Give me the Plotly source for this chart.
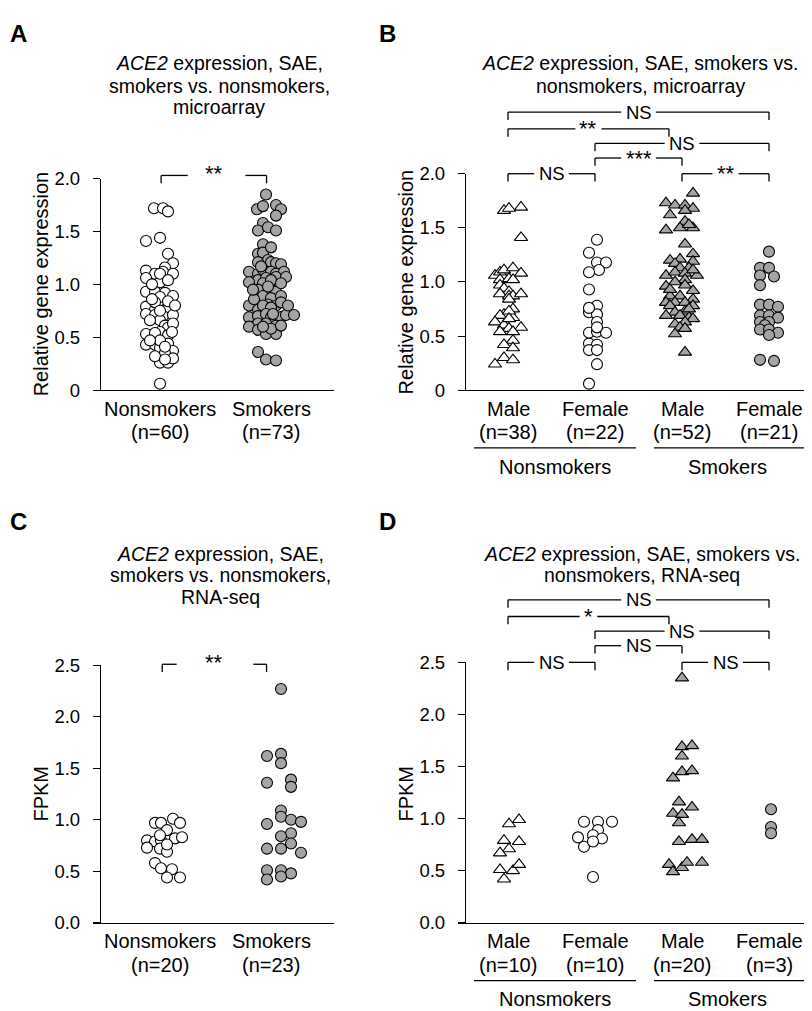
import plotly.graph_objects as go

W, H = 812, 1011
FONT = "Liberation Sans, Arial, Helvetica, sans-serif"
GRAY = "#a4a4a4"

# ---------------- DATA ----------------
# Panel A: microarray, nonsmokers vs smokers
a_labels = ["Nonsmokers", "Smokers"]
a_counts = ["(n=60)", "(n=73)"]
a_nonsmokers = [1.72, 1.72, 1.69, 1.41, 1.44, 1.29, 1.20, 1.16, 1.13, 1.10, 1.12, 1.10, 1.06, 1.02,
                0.93, 0.93, 0.92, 0.89, 0.88, 0.79, 0.76, 0.76, 0.78, 0.72, 0.71, 0.70, 0.71, 0.66,
                0.61, 0.59, 0.55, 0.53, 0.54, 0.52, 0.43, 0.43, 0.44, 0.40, 0.37, 0.35, 0.26, 0.26,
                0.30, 0.06, 1.10, 1.04, 1.00, 0.84, 0.83, 0.75, 0.66, 0.63, 0.47, 0.47, 0.41, 0.32,
                0.29, 0.86, 0.55, 0.80]
a_nonsmokers_dx = [-6, 3, 8, -14, 0, 8, 13, 5, -14, -5, 3, 13, -14, 0,
                   -14, -5, 5, 13, 0, -14, -5, 5, 8, -14, -5, 3, 13, 0,
                   5, 8, 0, -14, -5, 8, -14, -5, 8, 0, 13, 5, 0, 8,
                   13, 0, 0, 8, -8, 8, -5, 0, -10, 13, 0, -10, 5, -5,
                   5, -8, 12, 15]
a_smokers = [1.85, 1.71, 1.74, 1.75, 1.71, 1.65, 1.58, 1.51, 1.54, 1.51, 1.38, 1.29, 1.30, 1.23,
             1.21, 1.21, 1.20, 1.19, 1.12, 1.10, 1.14, 1.12, 1.10, 1.12, 1.04, 1.06, 1.07, 1.07,
             1.02, 1.01, 0.95, 0.95, 0.93, 0.89, 0.87, 0.89, 0.81, 0.80, 0.83, 0.80, 0.76, 0.80,
             0.78, 0.69, 0.70, 0.72, 0.69, 0.66, 0.69, 0.71, 0.71, 0.63, 0.63, 0.61, 0.60, 0.57,
             0.53, 0.53, 0.58, 0.36, 0.29, 0.28, 1.04, 1.01, 0.86, 0.72, 0.60, 0.61, 0.95, 0.98,
             0.80, 1.17, 1.35]
a_smokers_dx = [-5, -14, -8, 5, 10, 5, -8, -13, -3, 5, -8, -13, -8, -3,
                -13, 0, 5, 10, -22, -13, -8, 0, 5, 13, -13, -5, 5, 15,
                -22, -8, -13, 0, 5, -8, 0, 10, -3, 5, 10, -22, -13, -8,
                0, -22, -13, -5, 0, 5, 10, 15, 23, -13, -5, 5, -22, -13,
                -5, 5, 0, -13, -5, 5, 0, 10, -17, 2, -8, 10, -18, -3,
                17, -10, 0]

# Panel B: microarray by sex
b_labels = ["Male", "Female", "Male", "Female"]
b_counts = ["(n=38)", "(n=22)", "(n=52)", "(n=21)"]
b_ns_male = [1.66, 1.68, 1.69, 1.41, 1.06, 1.09, 1.11, 1.13, 1.08, 1.02, 1.03, 1.02, 0.97, 0.94,
             0.91, 0.89, 0.87, 0.87, 0.89, 0.84, 0.75, 0.70, 0.69, 0.67, 0.73, 0.63, 0.60, 0.57,
             0.58, 0.54, 0.54, 0.46, 0.42, 0.39, 0.30, 0.28, 0.24, 0.66]
b_ns_male_dx = [-4, 1, 13, 13, -13, -8, -4, 5, 13, -8, 1, 5, -8, -4,
                1, -8, 1, 5, 13, 1, 5, -4, -8, 5, 1, -13, -4, 1,
                13, -8, 5, 5, -4, 5, -4, 5, -13, 1]
b_ns_female = [1.39, 1.27, 1.18, 1.18, 1.11, 1.09, 0.93, 0.78, 0.72, 0.70, 0.63, 0.53, 0.54, 0.53,
               0.43, 0.42, 0.37, 0.37, 0.24, 0.06, 0.76, 0.58]
b_ns_female_dx = [2, -6, 2, 11, 4, -6, -6, 2, -6, 2, 2, -6, 2, 11,
                  -6, 2, -6, 2, 2, -6, -6, 2]
b_sm_male = [1.82, 1.73, 1.71, 1.71, 1.68, 1.66, 1.62, 1.56, 1.50, 1.50, 1.48, 1.35, 1.26, 1.20,
             1.21, 1.19, 1.17, 1.13, 1.13, 1.06, 1.09, 1.08, 1.06, 1.11, 1.02, 1.00, 0.96, 0.97,
             0.92, 0.87, 0.87, 0.84, 0.81, 0.81, 0.78, 0.81, 0.78, 0.73, 0.72, 0.69, 0.69, 0.67,
             0.66, 0.63, 0.61, 0.58, 0.57, 0.52, 0.35, 1.53, 0.93, 0.75]
b_sm_male_dx = [11, -16, -7, 3, 11, 3, -12, 3, -2, 11, -16, 3, 11, -12,
                -2, 11, -7, -2, 7, -16, -7, 3, 15, 11, 3, -7, -16, 3,
                11, -12, -2, 11, -16, -7, -12, 3, 11, 3, -7, -16, -2, 7,
                11, 3, -7, -2, 3, -7, 3, 7, -12, 7]
b_sm_female = [1.28, 1.13, 1.13, 1.06, 1.05, 0.97, 0.79, 0.79, 0.77, 0.69, 0.69, 0.67, 0.63, 0.63,
               0.60, 0.56, 0.56, 0.53, 0.51, 0.28, 0.27]
b_sm_female_dx = [0, -9, 0, -9, 5, -9, -9, 0, 9, -9, 0, 9, -9, 0,
                  -4, -9, 0, 9, 0, -9, 5]

# Panel C: RNA-seq, nonsmokers vs smokers
c_labels = ["Nonsmokers", "Smokers"]
c_counts = ["(n=20)", "(n=23)"]
c_nonsmokers = [0.97, 0.97, 1.01, 0.97, 0.90, 0.80, 0.79, 0.80, 0.82, 0.83, 0.73, 0.72, 0.69, 0.58,
                0.53, 0.52, 0.44, 0.44, 0.76, 0.85]
c_nonsmokers_dx = [-5, 1, 13, 20, 7, -13, -5, 1, 15, 22, -13, 0, 7, -5,
                   1, 12, 7, 20, 7, 0]
c_smokers = [2.27, 1.62, 1.64, 1.55, 1.36, 1.39, 1.32, 1.09, 1.03, 1.00, 0.98, 0.96, 0.87, 0.84,
             0.77, 0.72, 0.72, 0.68, 0.51, 0.51, 0.48, 0.42, 0.45]
c_smokers_dx = [10, -4, 10, 10, -4, 20, 20, 10, 10, 20, 30, -4, 20, 10,
                20, -4, 10, 30, -4, 10, 20, -4, 10]

# Panel D: RNA-seq by sex
d_labels = ["Male", "Female", "Male", "Female"]
d_counts = ["(n=10)", "(n=10)", "(n=20)", "(n=3)"]
d_ns_male = [0.99, 0.95, 0.79, 0.78, 0.71, 0.67, 0.51, 0.50, 0.56, 0.42]
d_ns_male_dx = [11, 1, -4, 11, 1, -8, -8, 5, 11, -4]
d_ns_female = [0.97, 0.97, 0.97, 0.89, 0.82, 0.84, 0.81, 0.73, 0.78, 0.44]
d_ns_female_dx = [-11, 3, 17, 3, -17, -2, 7, -11, -2, -2]
d_sm_male = [2.35, 1.69, 1.70, 1.60, 1.39, 1.45, 1.46, 1.16, 1.11, 1.05, 1.04, 0.96, 0.78, 0.80,
             0.80, 0.56, 0.49, 0.53, 0.58, 0.58]
d_sm_male_dx = [0, 0, 10, 0, -9, 0, 10, -3, 10, -9, 0, -3, -3, 10,
                20, -13, -9, 0, 5, 20]
d_sm_female = [1.09, 0.92, 0.86]
d_sm_female_dx = [2, 2, 2]

group_names = ["Nonsmokers", "Smokers"]

# significance brackets: (from, to, level, label)
b_brackets = [(0, 3, 2.57, "NS"), (0, 1.85, 2.415, "**"), (1, 3, 2.28, "NS"),
              (1, 2, 2.145, "***"), (0, 1, 2.0, "NS"), (2, 3, 2.0, "**")]
d_brackets = [(0, 3, 3.10, "NS"), (0, 1.85, 2.94, "*"), (1, 3, 2.80, "NS"),
              (1, 2, 2.66, "NS"), (0, 1, 2.50, "NS"), (2, 3, 2.50, "NS")]

# ---------------- GEOMETRY (pixels) ----------------
GEOM = {
    "A": dict(n=1, yax=92, xs=85, xe=326, y0=379, ytop=163, ymax=2.0, c0=152, ppu=111),
    "B": dict(n=2, yax=457, xs=450, xe=807, y0=379, ytop=158, ymax=2.0, c0=500, ppu=87),
    "C": dict(n=3, yax=92, xs=85, xe=326, y0=923, ytop=660, ymax=2.5, c0=152, ppu=111),
    "D": dict(n=4, yax=457, xs=450, xe=807, y0=923, ytop=657, ymax=2.5, c0=500, ppu=87),
}


def suf(g):
    return "" if g["n"] == 1 else str(g["n"])


def paper_x(g, xv):
    return (g["c0"] + xv * g["ppu"]) / W


def paper_y(g, yv):
    return 1 - (g["y0"] - yv * (g["y0"] - g["ytop"]) / g["ymax"]) / H


def py(pix):
    return 1 - pix / H


fig = go.Figure()
shapes = []
annotations = []


def ann(text, x, y, size=20, xref="paper", yref="paper", **kw):
    d = dict(text=text, x=x, y=y, xref=xref, yref=yref, showarrow=False,
             font=dict(family=FONT, size=size, color="black"), xanchor="center", yanchor="middle")
    d.update(kw)
    annotations.append(d)


def line(x0, y0, x1, y1, w=1.3):
    shapes.append(dict(type="line", xref="paper", yref="paper", x0=x0, y0=y0, x1=x1, y1=y1,
                       line=dict(color="black", width=w)))


def add_group(g, pos, vals, dx, symbol, fill, size):
    xs = [pos + d / g["ppu"] for d in dx]
    s = suf(g)
    fig.add_trace(go.Scatter(
        x=xs, y=vals, mode="markers", xaxis="x" + s, yaxis="y" + s,
        marker=dict(symbol=symbol, size=size, color=fill, line=dict(color="black", width=1.1)),
        cliponaxis=False, showlegend=False, hoverinfo="skip"))


CIRC, TRI = 11, 11.5
gA, gB, gC, gD = GEOM["A"], GEOM["B"], GEOM["C"], GEOM["D"]
add_group(gA, 0, a_nonsmokers, a_nonsmokers_dx, "circle", "white", CIRC)
add_group(gA, 1, a_smokers, a_smokers_dx, "circle", GRAY, CIRC)
add_group(gB, 0, b_ns_male, b_ns_male_dx, "triangle-up", "white", TRI)
add_group(gB, 1, b_ns_female, b_ns_female_dx, "circle", "white", CIRC)
add_group(gB, 2, b_sm_male, b_sm_male_dx, "triangle-up", GRAY, TRI)
add_group(gB, 3, b_sm_female, b_sm_female_dx, "circle", GRAY, CIRC)
add_group(gC, 0, c_nonsmokers, c_nonsmokers_dx, "circle", "white", CIRC)
add_group(gC, 1, c_smokers, c_smokers_dx, "circle", GRAY, CIRC)
add_group(gD, 0, d_ns_male, d_ns_male_dx, "triangle-up", "white", TRI)
add_group(gD, 1, d_ns_female, d_ns_female_dx, "circle", "white", CIRC)
add_group(gD, 2, d_sm_male, d_sm_male_dx, "triangle-up", GRAY, TRI)
add_group(gD, 3, d_sm_female, d_sm_female_dx, "circle", GRAY, CIRC)

layout = dict(width=W, height=H, margin=dict(l=0, r=0, t=0, b=0), autosize=False,
              paper_bgcolor="white", plot_bgcolor="white", showlegend=False,
              font=dict(family=FONT, color="black"))

ticks = {
    "A": ([0, 0.5, 1.0, 1.5, 2.0], ["0", "0.5", "1.0", "1.5", "2.0"]),
    "B": ([0, 0.5, 1.0, 1.5, 2.0], ["0", "0.5", "1.0", "1.5", "2.0"]),
    "C": ([0, 0.5, 1.0, 1.5, 2.0, 2.5], ["0.0", "0.5", "1.0", "1.5", "2.0", "2.5"]),
    "D": ([0, 0.5, 1.0, 1.5, 2.0, 2.5], ["0.0", "0.5", "1.0", "1.5", "2.0", "2.5"]),
}

for key, g in GEOM.items():
    s = suf(g)
    layout["xaxis" + s] = dict(
        domain=[g["xs"] / W, g["xe"] / W],
        range=[(g["xs"] - g["c0"]) / g["ppu"], (g["xe"] - g["c0"]) / g["ppu"]],
        anchor="y" + s, showline=True, linecolor="black", linewidth=1.4,
        showticklabels=False, ticks="", showgrid=False, zeroline=False, fixedrange=True)
    tv, tt = ticks[key]
    layout["yaxis" + s] = dict(
        domain=[1 - g["y0"] / H, 1 - g["ytop"] / H], range=[0, g["ymax"]],
        anchor="free", position=g["yax"] / W, showline=True, linecolor="black", linewidth=1.4,
        ticks="outside", ticklen=7, tickwidth=1.4, tickcolor="black",
        tickvals=tv, ticktext=tt, tickfont=dict(family=FONT, size=18.5, color="black"),
        ticklabelstandoff=9, showgrid=False, zeroline=False, fixedrange=True)

# panel letters
for letter, (lx, ly) in {"A": (10, 15), "B": (379, 15), "C": (10, 513), "D": (379, 513)}.items():
    ann("<b>%s</b>" % letter, lx / W, py(ly), size=24)

# titles
title_lines = {
    "A": (211, [(45, "<i>ACE2</i> expression, SAE,"), (68, "smokers vs. nonsmokers,"), (90, "microarray")]),
    "B": (632, [(45, "<i>ACE2</i> expression, SAE, smokers vs."), (68, "nonsmokers, microarray")]),
    "C": (212, [(546, "<i>ACE2</i> expression, SAE,"), (568, "smokers vs. nonsmokers,"), (590, "RNA-seq")]),
    "D": (634, [(546, "<i>ACE2</i> expression, SAE, smokers vs."), (568, "nonsmokers, RNA-seq")]),
}
for key, (cx, lines) in title_lines.items():
    for yy, t in lines:
        ann(t, cx / W, py(yy), size=19.5)

# y-axis titles
ann("Relative gene expression", 33 / W, py(271), textangle=-90)
ann("Relative gene expression", 398 / W, py(269), textangle=-90)
ann("FPKM", 33 / W, py(791), textangle=-90)
ann("FPKM", 398 / W, py(791), textangle=-90)

# category labels
for g, labels, counts, yl in [(gA, a_labels, a_counts, 398), (gB, b_labels, b_counts, 398),
                              (gC, c_labels, c_counts, 942), (gD, d_labels, d_counts, 942)]:
    for i, (lab, cnt) in enumerate(zip(labels, counts)):
        ann(lab, paper_x(g, i), py(yl))
        ann(cnt, paper_x(g, i), py(yl + 24))

# group underlines and labels for B / D
for g, yline in [(gB, 438), (gD, 982)]:
    line(466 / W, py(yline), 628 / W, py(yline))
    line(646 / W, py(yline), 807 / W, py(yline))
    ann(group_names[0], 547 / W, py(yline + 19))
    ann(group_names[1], 719 / W, py(yline + 19))

CW = {"N": 0.722, "S": 0.667, "*": 0.389}


def text_w(t, fs):
    return sum(CW.get(c, 0.55) for c in t) * fs


def label_size(t):
    return 22 if "*" in t else 18.5


DROP = 8
for g, brs in [(gB, b_brackets), (gD, d_brackets)]:
    for x1, x2, lev, lab in brs:
        X1, X2 = paper_x(g, x1), paper_x(g, x2)
        Y = paper_y(g, lev)
        Yd = Y - DROP / H
        xm = (X1 + X2) / 2
        fs = label_size(lab)
        gap = (text_w(lab, fs) + 9) / W
        line(X1, Yd, X1, Y)
        line(X1, Y, xm - gap / 2, Y)
        line(xm + gap / 2, Y, X2, Y)
        line(X2, Y, X2, Yd)
        ann(lab, xm, Y, size=fs)

# open brackets for A and C: (x1, x1_end, x2_start, x2, level, label)
for g, (x1, x1e, x2s, x2, lev, lab) in [(gA, (0.01, 0.25, 0.77, 0.96, 2.03, "**")),
                                        (gC, (0.02, 0.15, 0.84, 0.96, 2.51, "**"))]:
    Y = paper_y(g, lev)
    Yd = Y - DROP / H
    line(paper_x(g, x1), Yd, paper_x(g, x1), Y)
    line(paper_x(g, x1), Y, paper_x(g, x1e), Y)
    line(paper_x(g, x2s), Y, paper_x(g, x2), Y)
    line(paper_x(g, x2), Y, paper_x(g, x2), Yd)
    ann(lab, (paper_x(g, x1) + paper_x(g, x2)) / 2, Y + 2 / H, size=22)

layout["shapes"] = shapes
layout["annotations"] = annotations
fig.update_layout(**layout)
fig.write_html("out.html")
